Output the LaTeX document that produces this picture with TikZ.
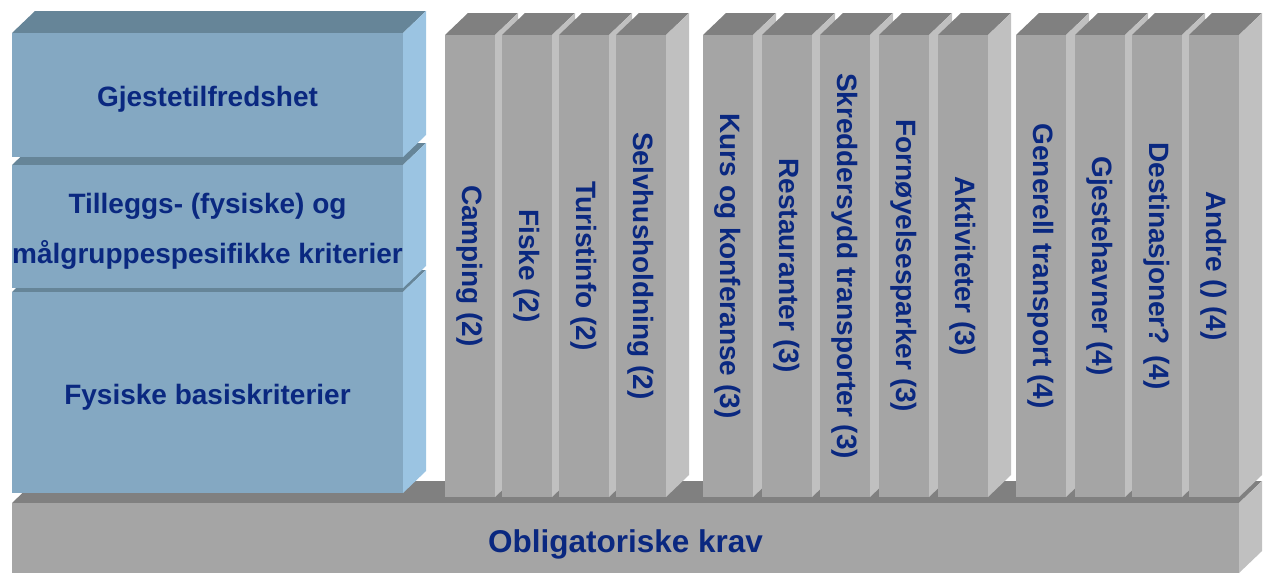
\documentclass[tikz,border=0pt]{standalone}
\usepackage{fontspec}
\setmainfont{Liberation Sans}
\definecolor{bluefront}{HTML}{84A8C2}
\definecolor{bluetop}{HTML}{668598}
\definecolor{blueside}{HTML}{9BC4E2}
\definecolor{greyfront}{HTML}{A5A5A5}
\definecolor{greytop}{HTML}{808080}
\definecolor{greyside}{HTML}{C0C0C0}
\definecolor{txtblue}{RGB}{10,40,128}
% #1 x, #2 y (front top-left), #3 width, #4 height, #5 front, #6 top, #7 side
\newcommand\prism[7]{%
  \fill[#6] (#1,#2) -- ++(23,-22) -- ++(#3,0) -- ++(-23,22) -- cycle;
  \fill[#7] ({#1+#3},#2) -- ++(23,-22) -- ++(0,#4) -- ++(-23,22) -- cycle;
  \fill[#5] (#1,#2) rectangle ++(#3,#4);
}
\tikzset{
  lbl/.style={text=txtblue, inner sep=0pt, font=\fontsize{28}{50}\selectfont\bfseries},
  collbl/.style={lbl, rotate=-90},
}
\begin{document}
\begin{tikzpicture}[x=1pt,y=-1pt]
\useasboundingbox (0,0) rectangle (1263,573);
% base
\prism{12}{503}{1227}{70}{greyfront}{greytop}{greyside}
% columns
\foreach \L/\t [count=\i] in {
  445/Camping (2), 502/Fiske (2), 559/Turistinfo (2), 616/Selvhusholdning (2),
  703/Kurs og konferanse (3), 762/Restauranter (3), 820/Skreddersydd transporter (3), 879/Fornøyelsesparker (3), 938/Aktiviteter (3),
  1016/Generell transport (4), 1075/Gjestehavner (4), 1132/Destinasjoner? (4), 1189/Andre () (4)}{
  \prism{\L}{35}{50}{462}{greyfront}{greytop}{greyside}
  \node[collbl] (c\i) at ({\L+25},266) {\t};
}
% blue stack
\prism{12}{292}{391}{201}{bluefront}{bluetop}{blueside}
\prism{12}{165}{391}{123}{bluefront}{bluetop}{blueside}
\prism{12}{33}{391}{124}{bluefront}{bluetop}{blueside}
\node[lbl] (gjest) at (207.5,99) {Gjestetilfredshet};
\node[lbl, align=center] (till) at (207.5,231) {Tilleggs- (fysiske) og\\målgruppespesifikke kriterier};
\node[lbl] (fys) at (207.5,397) {Fysiske basiskriterier};
\node[lbl, font=\fontsize{31.5}{36}\selectfont\bfseries] (oblig) at (625.5,544) {Obligatoriske krav};
\end{tikzpicture}
\end{document}
